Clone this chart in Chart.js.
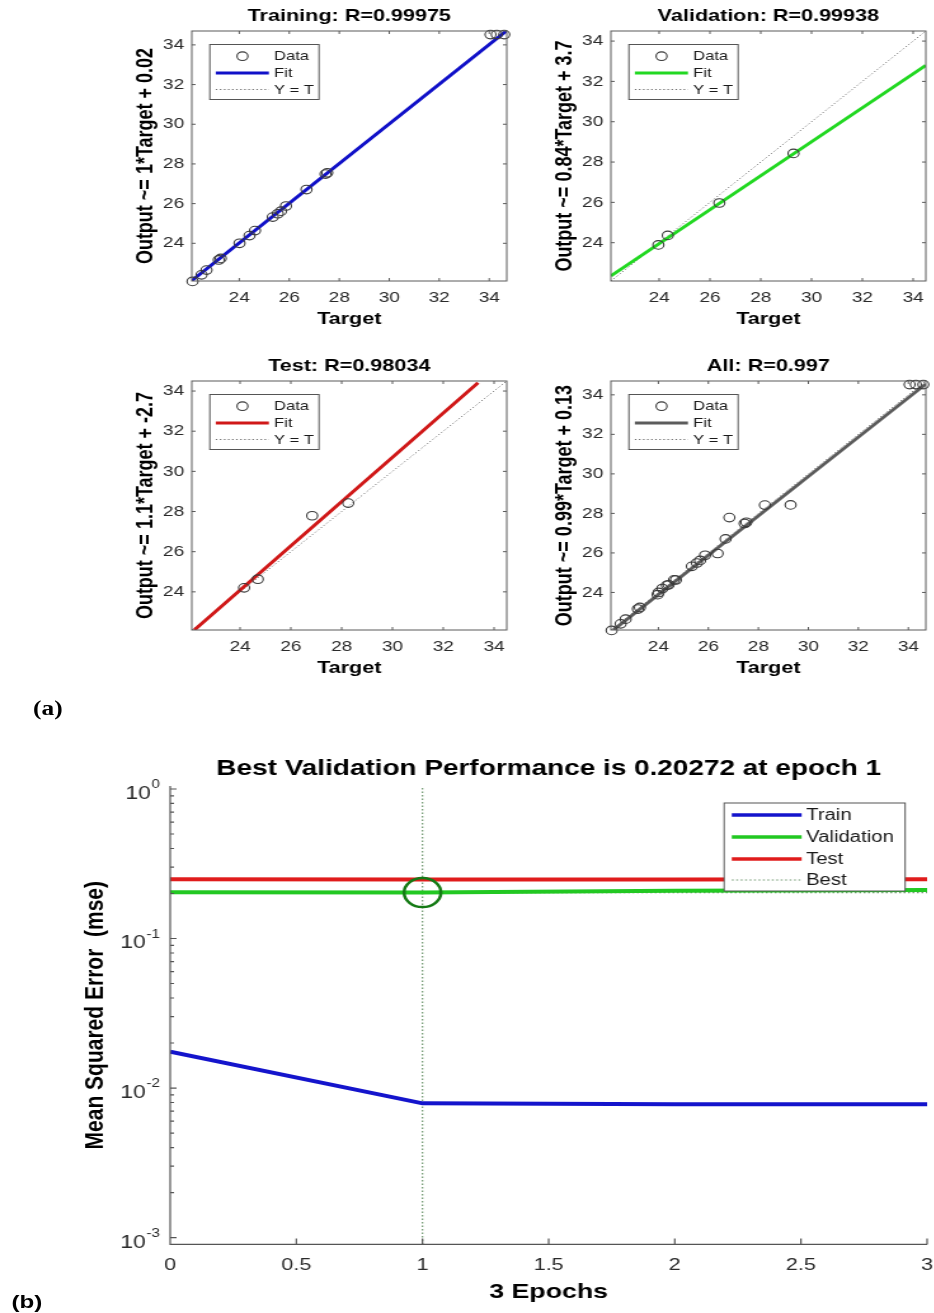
<!DOCTYPE html>
<html>
<head>
<meta charset="utf-8">
<script src="https://cdn.jsdelivr.net/npm/chart.js@4.4.1/dist/chart.umd.min.js"></script>
<style>
  html, body { margin: 0; padding: 0; background: #fff; overflow: hidden; }
  /* the source figure is stretched sideways, so the whole sheet is too */
  #fig { position: relative; width: 736px; height: 1313px; transform: scaleX(1.27); transform-origin: 0 0; }
  #fig canvas { position: absolute; }
  .tag { position: absolute; color: #000; line-height: 1; white-space: nowrap; }
</style>
</head>
<body>
<div id="fig">
  <canvas id="cTrain"></canvas>
  <canvas id="cVal"></canvas>
  <canvas id="cTest"></canvas>
  <canvas id="cAll"></canvas>
  <canvas id="cPerf"></canvas>
  <div class="tag" style="left:26px;top:697px;font:bold 20px 'Liberation Serif','Times New Roman',serif">(a)</div>
  <div class="tag" style="left:9px;top:1291px;font:bold 19px 'Liberation Sans',Arial,sans-serif">(b)</div>
</div>
<script>
const FONT = "'Liberation Sans', Arial, Helvetica, sans-serif";
Chart.defaults.font.family = FONT;
Chart.defaults.color = '#262626';

// (a) regression plots
const axisTicks = [24, 26, 28, 30, 32, 34];

const trainTarget = [22.13, 22.49, 22.69, 23.18, 23.26, 24.01, 24.41, 24.63, 25.34, 25.54, 25.67, 25.87, 26.69, 27.45, 27.52, 34.05, 34.3, 34.6];
const trainOutput = [22.08, 22.41, 22.65, 23.16, 23.24, 24.0, 24.39, 24.64, 25.32, 25.49, 25.62, 25.88, 26.71, 27.49, 27.55, 34.52, 34.52, 34.52];
const trainFitX = [22.1, 34.7];
const trainFitY = [22.12, 34.72];
const trainRange = [22.1, 34.7];

const valTarget = [23.97, 24.34, 26.37, 29.29];
const valOutput = [23.89, 24.36, 25.97, 28.43];
const valFitX = [22.1, 34.5];
const valFitY = [22.35, 32.8];
const valRange = [22.1, 34.5];

const testTarget = [24.16, 24.7, 26.84, 28.26];
const testOutput = [24.2, 24.63, 27.79, 28.42];
const testFitX = [22.2, 33.37];
const testFitY = [22.1, 34.41];
const testRange = [22.1, 34.5];

const allFitX = [22.2, 34.7];
const allFitY = [22.1, 34.55];
const allRange = [22.1, 34.7];

// (b) performance plot
const epochs = [0, 1, 2, 3];
const trainMse = [0.0175, 0.0079, 0.0078, 0.0078];
const valMse = [0.2035, 0.20272, 0.209, 0.211];
const testMse = [0.249, 0.248, 0.248, 0.249];
const bestEpoch = 1;
const bestMse = 0.20272;
const epochTicks = [0, 0.5, 1, 1.5, 2, 2.5, 3];
const mseTicks = [0.001, 0.01, 0.1, 1];
const mseRange = [0.0009, 1.047];

const pts = (xs, ys) => xs.map((x, i) => ({ x: x, y: ys[i] }));

function place(id, left, top, width, height) {
  const c = document.getElementById(id);
  c.width = width;
  c.height = height;
  c.style.left = left + 'px';
  c.style.top = top + 'px';
  return c;
}

// keep the plot box where it was measured, whatever the edge labels need
function fixSize(s, size) {
  if (s.isHorizontal()) s.height = size; else s.width = size;
  s.paddingLeft = s.paddingRight = s.paddingTop = s.paddingBottom = 0;
}

// matlab style box with inward ticks
const boxAxes = {
  id: 'boxAxes',
  afterDatasetsDraw(chart) {
    const { ctx, chartArea: a, scales: { x, y } } = chart;
    ctx.save();
    ctx.strokeStyle = '#5a5a5a';
    ctx.lineWidth = 1;
    ctx.strokeRect(a.left, a.top, a.width, a.height);
    ctx.beginPath();
    x.ticks.forEach(t => {
      const px = x.getPixelForValue(t.value);
      ctx.moveTo(px, a.bottom); ctx.lineTo(px, a.bottom - 3);
      ctx.moveTo(px, a.top); ctx.lineTo(px, a.top + 3);
    });
    y.ticks.forEach(t => {
      const py = y.getPixelForValue(t.value);
      ctx.moveTo(a.left, py); ctx.lineTo(a.left + 3, py);
      ctx.moveTo(a.right, py); ctx.lineTo(a.right - 3, py);
    });
    ctx.stroke();
    ctx.restore();
  }
};

const miniLegend = {
  id: 'miniLegend',
  afterDraw(chart) {
    const { ctx, chartArea: a } = chart;
    const x0 = a.left + 14.2, y0 = a.top + 13.5, w = 86, h = 55;
    const rows = [11.7, 28.5, 45];
    ctx.save();
    ctx.fillStyle = '#fff';
    ctx.fillRect(x0, y0, w, h);
    ctx.strokeStyle = '#555';
    ctx.lineWidth = 1;
    ctx.strokeRect(x0, y0, w, h);
    ctx.font = '13px ' + FONT;
    ctx.textBaseline = 'middle';
    chart.data.datasets.forEach((ds, i) => {
      const yy = y0 + rows[i];
      ctx.strokeStyle = ds.borderColor;
      if (ds.showLine) {
        ctx.lineWidth = ds.borderWidth;
        ctx.setLineDash(ds.borderDash || []);
        ctx.beginPath(); ctx.moveTo(x0 + 4.7, yy); ctx.lineTo(x0 + 46.5, yy); ctx.stroke();
        ctx.setLineDash([]);
      } else {
        ctx.lineWidth = ds.pointBorderWidth;
        ctx.beginPath(); ctx.arc(x0 + 25.7, yy, ds.pointRadius, 0, Math.PI * 2); ctx.stroke();
      }
      ctx.fillStyle = '#1a1a1a';
      ctx.fillText(ds.label, x0 + 50.6, yy + 0.5);
    });
    ctx.restore();
  }
};

function linAxis(range, pos, title) {
  const left = pos === 'left';
  return {
    type: 'linear', position: pos, min: range[0], max: range[1],
    afterBuildTicks: s => { s.ticks = axisTicks.map(v => ({ value: v })); },
    afterFit: s => fixSize(s, 50),
    grid: { display: false, drawTicks: false },
    border: { display: false },
    ticks: { color: '#2a2a2a', font: { size: 15 }, padding: left ? 6 : 8, maxRotation: 0, autoSkip: false, callback: v => String(v) },
    title: {
      display: true, text: title, color: '#000',
      font: { size: left ? 18 : 17, weight: 'bold', lineHeight: 1.2 },
      padding: left ? { top: 2.8, bottom: 0 } : { top: 0, bottom: 1 }
    }
  };
}

function regPanel(id, plotLeft, plotTop, plotH, p) {
  const W = 248;
  const canvas = place(id, plotLeft - 50, plotTop - 31, 50 + W + 4, 31 + plotH + 52);
  new Chart(canvas, {
    type: 'scatter',
    data: {
      datasets: [
        { label: 'Data', data: pts(p.target, p.output), pointStyle: 'circle', pointRadius: 4.3, pointBorderWidth: 1.1,
          borderColor: '#3a3a3a', backgroundColor: 'rgba(0,0,0,0)', clip: false },
        { label: 'Fit', data: pts(p.fitX, p.fitY), showLine: true, pointRadius: 0, borderWidth: 3, borderColor: p.color },
        { label: 'Y = T', data: pts(p.range, p.range), showLine: true, pointRadius: 0, borderWidth: 1,
          borderColor: '#6e6e6e', borderDash: [1.2, 2] }
      ]
    },
    options: {
      responsive: false, animation: false, events: [],
      layout: { autoPadding: false, padding: { left: 0, right: 4, top: 0, bottom: 2 } },
      scales: { x: linAxis(p.range, 'bottom', 'Target'), y: linAxis(p.range, 'left', p.yTitle) },
      plugins: {
        legend: { display: false }, tooltip: { enabled: false },
        title: { display: true, text: p.title, fullSize: false, color: '#000',
          font: { size: 17, weight: 'bold', lineHeight: 1.2 }, padding: { top: 6.3, bottom: 4.3 } }
      }
    },
    plugins: [boxAxes, miniLegend]
  });
}

regPanel('cTrain', 150.5, 31, 250, {
  title: 'Training: R=0.99975', yTitle: 'Output ~= 1*Target + 0.02', color: '#1010c8',
  target: trainTarget, output: trainOutput, fitX: trainFitX, fitY: trainFitY, range: trainRange
});
regPanel('cVal', 481, 31, 250, {
  title: 'Validation: R=0.99938', yTitle: 'Output ~= 0.84*Target + 3.7', color: '#22d822',
  target: valTarget, output: valOutput, fitX: valFitX, fitY: valFitY, range: valRange
});
regPanel('cTest', 150.5, 381, 249, {
  title: 'Test: R=0.98034', yTitle: 'Output ~= 1.1*Target + -2.7', color: '#d01818',
  target: testTarget, output: testOutput, fitX: testFitX, fitY: testFitY, range: testRange
});
regPanel('cAll', 481, 381, 249, {
  title: 'All: R=0.997', yTitle: 'Output ~= 0.99*Target + 0.13', color: '#5c5c5c',
  target: trainTarget.concat(valTarget, testTarget), output: trainOutput.concat(valOutput, testOutput),
  fitX: allFitX, fitY: allFitY, range: allRange
});

// (b) axes: left and bottom only, inward ticks, 10^n labels
const perfAxes = {
  id: 'perfAxes',
  afterDatasetsDraw(chart) {
    const { ctx, chartArea: a, scales: { x, y } } = chart;
    ctx.save();
    ctx.strokeStyle = '#555';
    ctx.lineWidth = 1.2;
    ctx.beginPath();
    ctx.moveTo(a.left, a.top); ctx.lineTo(a.left, a.bottom); ctx.lineTo(a.right, a.bottom);
    x.ticks.forEach(t => {
      const px = x.getPixelForValue(t.value);
      ctx.moveTo(px, a.bottom); ctx.lineTo(px, a.bottom - 6);
    });
    mseTicks.forEach(v => {
      const py = y.getPixelForValue(v);
      ctx.moveTo(a.left, py); ctx.lineTo(a.left + 5, py);
      if (v < 1) {
        for (let k = 2; k <= 9; k++) {
          const pm = y.getPixelForValue(v * k);
          ctx.moveTo(a.left, pm); ctx.lineTo(a.left + 3, pm);
        }
      }
    });
    ctx.stroke();
    ctx.fillStyle = '#2a2a2a';
    ctx.textAlign = 'right';
    ctx.textBaseline = 'middle';
    mseTicks.forEach(v => {
      const py = y.getPixelForValue(v);
      const ex = String(Math.round(Math.log10(v)));
      ctx.font = '12px ' + FONT;
      const sw = ctx.measureText(ex).width;
      ctx.fillText(ex, a.left - 8, py - 4);
      ctx.font = '18px ' + FONT;
      ctx.fillText('10', a.left - 8 - sw - 0.5, py + 5);
    });
    ctx.restore();
  },
  afterDraw(chart) {
    const { ctx, chartArea: a } = chart;
    const x0 = a.right - 17.3 - 142.5, y0 = a.top + 17, w = 142.5, h = 88;
    const rows = [12, 34, 56, 77];
    ctx.save();
    ctx.fillStyle = '#fff';
    ctx.fillRect(x0, y0, w, h);
    ctx.strokeStyle = '#555';
    ctx.lineWidth = 1;
    ctx.strokeRect(x0, y0, w, h);
    ctx.font = '16px ' + FONT;
    ctx.textBaseline = 'middle';
    chart.data.datasets.filter(ds => ds.label).forEach((ds, i) => {
      const yy = y0 + rows[i];
      ctx.strokeStyle = ds.borderColor;
      ctx.lineWidth = ds.borderDash ? 1.2 : 3.5;
      ctx.setLineDash(ds.borderDash || []);
      ctx.beginPath(); ctx.moveTo(x0 + 6, yy); ctx.lineTo(x0 + 61, yy); ctx.stroke();
      ctx.setLineDash([]);
      ctx.fillStyle = '#1a1a1a';
      ctx.fillText(ds.label, x0 + 64.5, yy + 1);
    });
    ctx.restore();
  }
};

const bestColor = 'rgba(95,140,95,0.9)';
const perfCanvas = place('cPerf', 34, 740, 702, 569);
new Chart(perfCanvas, {
  type: 'scatter',
  data: {
    datasets: [
      { label: '', data: pts([bestEpoch], [bestMse]), pointStyle: 'circle', pointRadius: 14.5, pointBorderWidth: 2.5,
        borderColor: '#147a14', backgroundColor: 'rgba(0,0,0,0)', clip: false },
      { label: 'Train', data: pts(epochs, trainMse), showLine: true, pointRadius: 0, borderWidth: 4, borderColor: '#1414cc' },
      { label: 'Validation', data: pts(epochs, valMse), showLine: true, pointRadius: 0, borderWidth: 4, borderColor: '#22c822' },
      { label: 'Test', data: pts(epochs, testMse), showLine: true, pointRadius: 0, borderWidth: 4, borderColor: '#e01c1c' },
      { label: 'Best', data: pts([epochs[0], epochs[epochs.length - 1]], [bestMse, bestMse]), showLine: true, pointRadius: 0,
        borderWidth: 1.2, borderColor: bestColor, borderDash: [1.5, 2] },
      { label: '', data: pts([bestEpoch, bestEpoch], mseRange), showLine: true, pointRadius: 0,
        borderWidth: 1.2, borderColor: bestColor, borderDash: [1.5, 2] }
    ]
  },
  options: {
    responsive: false, animation: false, events: [],
    layout: { autoPadding: false, padding: { left: 0, right: 6, top: 0, bottom: 4 } },
    scales: {
      x: {
        type: 'linear', position: 'bottom', min: 0, max: 3,
        afterBuildTicks: s => { s.ticks = epochTicks.map(v => ({ value: v })); },
        afterFit: s => fixSize(s, 60.6),
        grid: { display: false, drawTicks: false }, border: { display: false },
        ticks: { color: '#2a2a2a', font: { size: 17 }, padding: 10.8, maxRotation: 0, autoSkip: false, callback: v => String(v) },
        title: { display: true, text: '3 Epochs', color: '#000', font: { size: 21, weight: 'bold', lineHeight: 1.2 }, padding: { top: 0, bottom: 0 } }
      },
      y: {
        type: 'logarithmic', position: 'left', min: mseRange[0], max: mseRange[1],
        afterBuildTicks: s => { s.ticks = mseTicks.map(v => ({ value: v })); },
        afterFit: s => fixSize(s, 100),
        grid: { display: false, drawTicks: false }, border: { display: false },
        ticks: { display: false },
        title: { display: true, text: 'Mean Squared Error  (mse)', color: '#000', font: { size: 21, weight: 'bold', lineHeight: 1.2 }, padding: { top: 28.3, bottom: 0 } }
      }
    },
    plugins: {
      legend: { display: false }, tooltip: { enabled: false },
      title: { display: true, text: 'Best Validation Performance is 0.20272 at epoch 1', fullSize: false, color: '#000',
        font: { size: 22, weight: 'bold', lineHeight: 1.2 }, padding: { top: 15.8, bottom: 3.8 } }
    }
  },
  plugins: [perfAxes]
});
</script>
</body>
</html>
